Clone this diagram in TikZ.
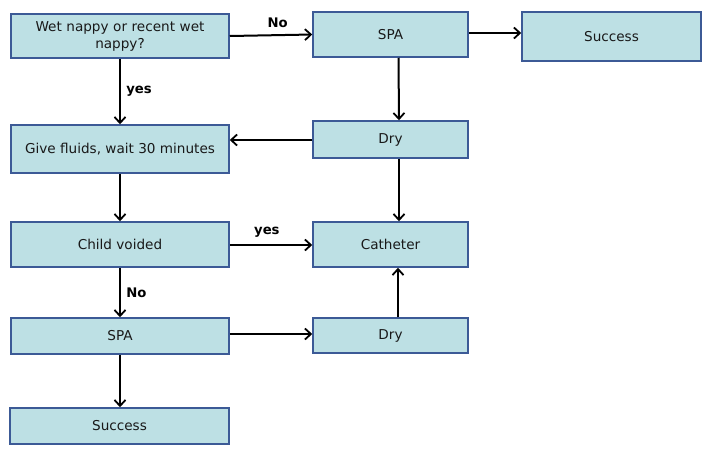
\documentclass[tikz,border=0pt]{standalone}
\usepackage{fontspec}
\setmainfont{DejaVu Sans}
\usetikzlibrary{arrows.meta}
\definecolor{boxfill}{RGB}{189,224,228}
\definecolor{boxline}{RGB}{60,90,150}
\definecolor{txt}{RGB}{25,25,25}
\tikzset{
  box/.style={draw=boxline, fill=boxfill, line width=1.5pt, inner sep=2pt, text=txt,
    font=\fontsize{13.6}{17}\selectfont, align=center},
  arr/.style={draw=black, line width=2pt, -{Straight Barb[length=6pt,width=11pt,line width=1.8pt]}},
  lbl/.style={font=\fontsize{13.2}{15}\selectfont\bfseries}
}
\begin{document}
\begin{tikzpicture}[x=1pt,y=-1pt]
\useasboundingbox (0,0) rectangle (710,459);
\node[box, minimum width=218pt, minimum height=44pt, text width=210pt] (A) at (120,36) {Wet nappy or recent wet\\nappy?};
\node[box, minimum width=155pt, minimum height=45pt] (B) at (390.5,34.5) {SPA};
\node[box, minimum width=179pt, minimum height=49pt] (C) at (611.5,36.5) {Success};
\node[box, minimum width=218pt, minimum height=48pt] (D) at (120,149) {Give fluids, wait 30 minutes};
\node[box, minimum width=155pt, minimum height=37pt] (E) at (390.5,139.5) {Dry};
\node[box, minimum width=218pt, minimum height=45pt] (F) at (120,244.5) {Child voided};
\node[box, minimum width=155pt, minimum height=45pt] (G) at (390.5,244.5) {Catheter};
\node[box, minimum width=218pt, minimum height=36pt] (H) at (120,336) {SPA};
\node[box, minimum width=155pt, minimum height=35pt] (I) at (390.5,335.5) {Dry};
\node[box, minimum width=219pt, minimum height=36pt] (J) at (119.5,426) {Success};

\draw[arr] (A.east) -- (B.west) node[lbl, pos=0.58, above=3pt] {No};
\draw[arr] ([yshift=1.5pt]B.east) -- ([yshift=1.5pt]C.west |- B.east);
\draw[arr] ([xshift=8pt]B.south) -- ([xshift=8.5pt]E.north);
\draw[arr] (A.south) -- (D.north) node[lbl, midway, right=2pt] {yes};
\draw[arr] ([yshift=-0.5pt]E.west) -- ([yshift=-0.5pt]D.east |- E.west);
\draw[arr] (D.south) -- (F.north);
\draw[arr] ([xshift=8.5pt]E.south) -- ([xshift=8.5pt]G.north);
\draw[arr] ([yshift=-0.5pt]F.east) -- ([yshift=-0.5pt]G.west) node[lbl, pos=0.45, above=3pt] {yes};
\draw[arr] (F.south) -- (H.north) node[lbl, midway, right=2pt] {No};
\draw[arr] ([yshift=2pt]H.east) -- ([yshift=2pt]I.west |- H.east);
\draw[arr] ([xshift=7.5pt]I.north) -- ([xshift=7.5pt]G.south);
\draw[arr] (H.south) -- (J.north -| H.south);
\end{tikzpicture}
\end{document}
